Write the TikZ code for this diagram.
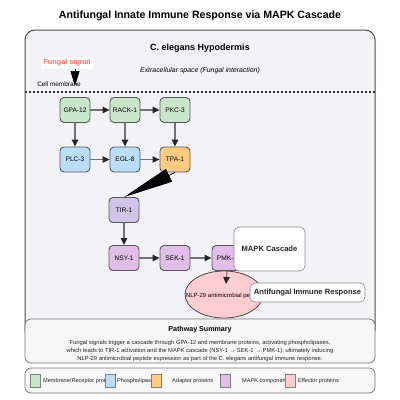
\documentclass[tikz,border=0pt]{standalone}
\usepackage{fontspec}
\setmainfont{Liberation Sans}
\usetikzlibrary{arrows.meta, shapes.geometric, positioning}
\definecolor{mem_green}{HTML}{C8E6C9}
\definecolor{phos_blue}{HTML}{BBDEFB}
\definecolor{adap_orange}{HTML}{FFCC80}
\definecolor{tir_violet}{HTML}{D1C4E9}
\definecolor{mapk_purple}{HTML}{E1BEE7}
\definecolor{eff_pink}{HTML}{FFCDD2}
\definecolor{panel_fill}{HTML}{F3F2F7}
\definecolor{signal_red}{HTML}{FF6B6B}
\tikzset{
    prot_box/.style={
        rectangle, rounded corners=4pt, draw=black!65, line width=0.9pt,
        minimum width=30pt, minimum height=25pt, inner sep=1pt,
        align=center, font=\fontsize{6.6}{7.5}\selectfont
    },
    prot_green/.style={prot_box, fill=mem_green},
    prot_blue/.style={prot_box, fill=phos_blue},
    prot_orange/.style={prot_box, fill=adap_orange},
    prot_violet/.style={prot_box, fill=tir_violet},
    prot_purple/.style={prot_box, fill=mapk_purple},
    path_arrow/.style={
        -{Triangle[length=7pt, width=6.5pt, color=black!85]}, draw=black!55, line width=1.1pt
    },
    big_arrow/.style={
        -{Triangle[length=#1, width=9pt, color=black]}, draw=black, line width=0.8pt
    },
    white_box/.style={
        rectangle, rounded corners=5pt, draw=black!45, line width=0.6pt, fill=white,
        inner sep=1pt, text=black!85, font=\fontsize{7.6}{9}\selectfont\bfseries
    },
    info_box/.style={
        rectangle, rounded corners=6pt, draw=black!55, line width=0.7pt, fill=black!3,
        minimum width=350pt, inner sep=0pt
    },
    swatch/.style={
        rectangle, draw=black!50, line width=0.5pt, minimum width=10pt, minimum height=13pt,
        inner sep=0pt
    },
    leg_txt/.style={anchor=west, inner sep=0pt, text=black!85, font=\fontsize{5.6}{6.5}\selectfont}
}
\begin{document}
\begin{tikzpicture}[x=1pt, y=-1pt, >=Stealth]
    \useasboundingbox (0,0) rectangle (400,400);

    % hypodermis panel
    \node[rectangle, rounded corners=10pt, draw=black!70, line width=1pt, fill=panel_fill,
          minimum width=350pt, minimum height=310pt, inner sep=0pt] (panel) at (200,185) {};
    \node[font=\fontsize{10.6}{12}\selectfont\bfseries] (title) at (200,16)
        {Antifungal Innate Immune Response via MAPK Cascade};
    \node[font=\fontsize{9}{11}\selectfont\bfseries] (tissue) at (200,48) {C. elegans Hypodermis};
    \node[font=\fontsize{6.9}{8}\selectfont\itshape] (extra) at (200,71)
        {Extracellular space (Fungal interaction)};
    \coordinate (memb_l) at (25,92);
    \coordinate (memb_r) at (375,92);
    \draw[black!80, line width=1.2pt, dash pattern=on 2pt off 2pt] (memb_l) -- (memb_r);
    \node[font=\fontsize{6.4}{7}\selectfont, inner sep=0pt] (cellmemb) at (59,84) {Cell membrane};
    \node[fill=white, rounded corners=2pt, inner sep=2.5pt, text=signal_red,
          font=\fontsize{7.3}{8}\selectfont\bfseries] (signal) at (67,63) {Fungal signal};
    \coordinate (memb_pt) at (75,86);
    \draw[big_arrow=15pt] (signal.south -| memb_pt) -- (memb_pt);

    % membrane and phospholipase proteins
    \node[prot_green] (gpa) at (75,110) {GPA-12};
    \node[prot_green] (rack) at (125,110) {RACK-1};
    \node[prot_green] (pkc) at (175,110) {PKC-3};
    \node[prot_blue] (plc) at (75,159.5) {PLC-3};
    \node[prot_blue] (egl) at (125,159.5) {EGL-8};
    \node[prot_orange] (tpa) at (175,159.5) {TPA-1};

    % adaptor and MAPK cascade
    \node[prot_violet] (tir) at (124,210) {TIR-1};
    \node[prot_purple] (nsy) at (124,258) {NSY-1};
    \node[prot_purple] (sek) at (175,258) {SEK-1};
    \node[prot_purple] (pmk) at (227,258) {PMK-1};

    \draw[path_arrow] (gpa) -- (rack);
    \draw[path_arrow] (rack) -- (pkc);
    \draw[path_arrow] (gpa) -- (plc);
    \draw[path_arrow] (rack) -- (egl);
    \draw[path_arrow] (pkc) -- (tpa);
    \draw[path_arrow] (plc) -- (egl);
    \draw[path_arrow] (egl) -- (tpa);
    \draw[-{Triangle[length=50pt, width=14pt, color=black]}, draw=black, line width=0.8pt]
        (tpa.south) -- (tir.north);
    \draw[path_arrow] (tir) -- (nsy);
    \draw[path_arrow] (nsy) -- (sek);
    \draw[path_arrow] (sek) -- (pmk);

    % effector
    \node[ellipse, draw=black!70, line width=0.8pt, fill=eff_pink,
          minimum width=78pt, minimum height=47pt, inner sep=0pt] (nlp) at (224,294.5) {};
    \node[inner sep=0pt, font=\fontsize{6}{7}\selectfont] (nlp_txt) at (224.5,295.5)
        {NLP-29 antimicrobial peptide};
    \coordinate (nlp_top) at (226,284);
    \draw[path_arrow] (pmk.south) -- (nlp_top);

    \node[white_box, minimum width=71pt, minimum height=44pt] (mapk_lbl) at (269.5,249) {MAPK Cascade};
    \node[white_box, minimum width=115pt, minimum height=19pt] (immune_lbl) at (307.5,292.5)
        {Antifungal Immune Response};

    % summary
    \node[info_box, minimum height=44pt] (sum_box) at (200,341) {};
    \node[font=\fontsize{7.1}{8}\selectfont\bfseries] (sum_title) at (200,330) {Pathway Summary};
    \node[align=center, inner sep=0pt, text=black!85, font=\fontsize{5.8}{8}\selectfont] (sum_txt) at (200,350.5)
        {Fungal signals trigger a cascade through GPA-12 and membrane proteins, activating phospholipases,\\
         which leads to TIR-1 activation and the MAPK cascade (NSY-1 → SEK-1 → PMK-1), ultimately inducing\\
         NLP-29 antimicrobial peptide expression as part of the C. elegans antifungal immune response.};

    % legend
    \node[info_box, minimum height=25pt] (leg_box) at (200,380.5) {};
    \node[swatch, fill=mem_green] (sw_mem) at (35,380.5) {};
    \node[leg_txt] (lt_mem) at (43,381) {Membrane/Receptor proteins};
    \node[swatch, fill=phos_blue] (sw_phos) at (110,380.5) {};
    \node[leg_txt] (lt_phos) at (117,381) {Phospholipases};
    \node[swatch, fill=adap_orange] (sw_adap) at (156,380.5) {};
    \node[leg_txt] (lt_adap) at (172,381) {Adaptor proteins};
    \node[swatch, fill=mapk_purple] (sw_mapk) at (225,380.5) {};
    \node[leg_txt] (lt_mapk) at (242,381) {MAPK components};
    \node[swatch, fill=eff_pink] (sw_eff) at (290,380.5) {};
    \node[leg_txt] (lt_eff) at (298,381) {Effector proteins};

\end{tikzpicture}
\end{document}
